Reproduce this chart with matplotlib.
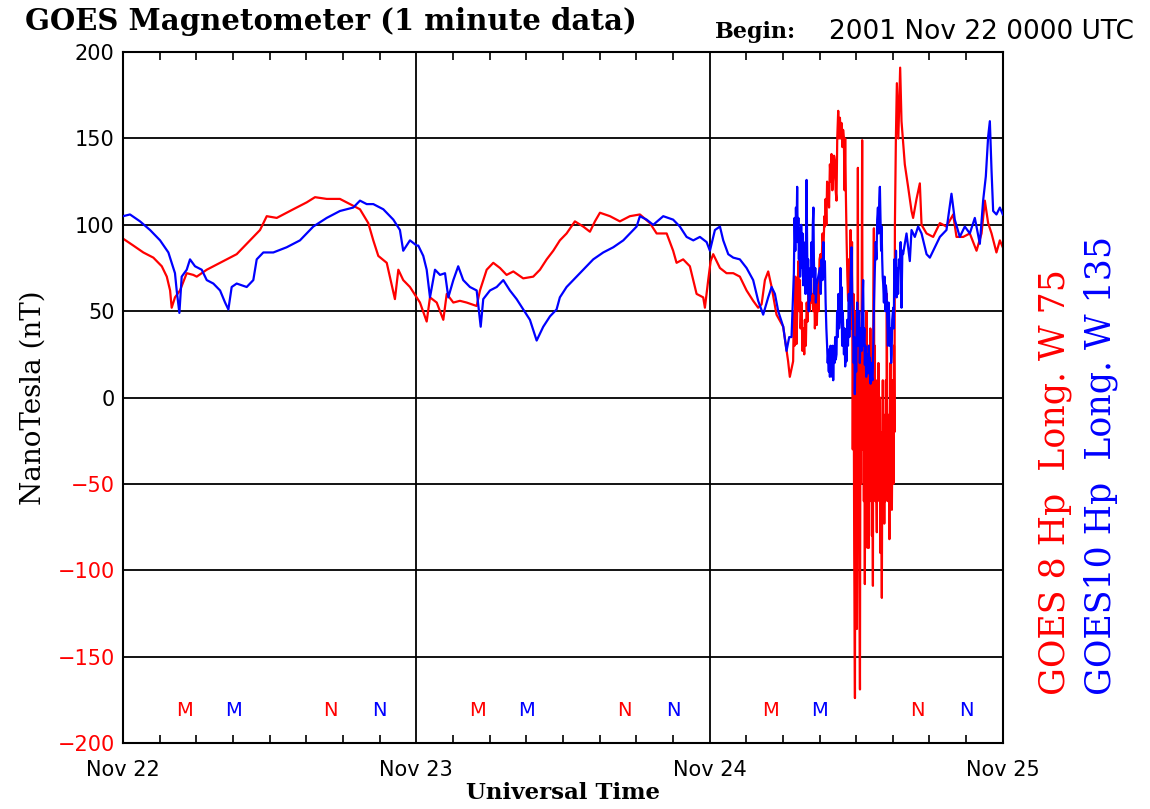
import matplotlib
matplotlib.use("Agg")
import matplotlib.pyplot as plt
import numpy as np

# hours since 2001 Nov 22 00 UT, values in nT

# GOES 8 (red)
g8_day1_hours = [0.0, 0.84, 1.66, 2.48, 3.17, 3.58, 3.85, 3.98, 4.25, 4.66, 5.21, 5.75, 6.03, 6.85,
                 7.94, 9.30, 10.12, 11.21, 11.76, 12.58, 13.93, 15.03, 15.71, 16.67, 17.75, 18.57,
                 19.39, 20.07, 20.48, 20.89, 21.58, 22.25, 22.53, 22.93, 23.48]
g8_day1_nt = [92, 88, 84, 81, 76, 70, 62, 52, 58, 62, 72, 71, 70, 74,
              78, 83, 89, 97, 105, 104, 109, 113, 116, 115, 115, 112,
              109, 101, 91, 82, 78, 57, 74, 68, 64]

g8_day2_hours = [24.03, 24.30, 24.85, 25.12, 25.67, 26.21, 26.49, 27.03, 27.57, 28.12, 28.94, 29.21,
                 29.76, 30.30, 30.85, 31.39, 31.94, 32.75, 33.57, 34.12, 34.67, 35.21, 35.75, 36.30,
                 36.98, 37.66, 38.21, 38.62, 39.03, 39.85, 40.66, 41.48, 42.30, 43.12, 43.67, 44.49,
                 45.02, 45.30, 45.84, 46.39, 46.94, 47.48, 47.62, 47.89]
g8_day2_nt = [58, 55, 44, 58, 55, 45, 60, 55, 56, 55, 53, 62,
              74, 78, 75, 71, 73, 69, 70, 74, 80, 85, 91, 95,
              102, 99, 96, 102, 107, 105, 102, 105, 106, 101, 95, 95,
              85, 78, 80, 76, 60, 58, 52, 68]

g8_day3_hours = [48.09, 48.30, 48.85, 49.39, 49.94, 50.48, 51.03, 51.57, 51.98, 52.26, 52.53, 52.80,
                 53.08, 53.48, 54.03, 54.43, 54.57,
                 54.84, 54.90, 54.96, 55.02, 55.08, 55.12, 55.20, 55.27, 55.34, 55.40, 55.45, 55.53,
                 55.60, 55.68, 55.75, 55.80, 55.88, 55.95, 56.02, 56.10, 56.18, 56.25, 56.32, 56.40,
                 56.48, 56.55, 56.62, 56.70, 56.78, 56.85, 56.92, 57.00, 57.08, 57.16, 57.25, 57.32,
                 57.40, 57.44, 57.50, 57.56, 57.62, 57.71, 57.78, 57.85, 57.92, 57.98, 58.05, 58.12,
                 58.19, 58.26, 58.32, 58.39, 58.45, 58.53, 58.60, 58.67, 58.74, 58.80, 58.87, 58.93,
                 58.99, 59.05, 59.10, 59.16, 59.22, 59.28, 59.34, 59.40, 59.46,
                 59.54, 59.60, 59.66, 59.72, 59.78, 59.84, 59.90, 59.94, 59.98, 60.02, 60.06, 60.10,
                 60.14, 60.18, 60.22, 60.26, 60.31, 60.35, 60.40, 60.45, 60.49, 60.53, 60.58, 60.63,
                 60.67, 60.71, 60.75, 60.80, 60.84, 60.88, 60.92, 60.96, 61.00, 61.04, 61.08, 61.12,
                 61.16, 61.20, 61.25, 61.29, 61.33, 61.37, 61.41, 61.45, 61.49, 61.53, 61.57, 61.61,
                 61.65, 61.69, 61.73, 61.78, 61.82, 61.86, 61.90, 61.94, 61.98, 62.02, 62.06, 62.10,
                 62.14, 62.18, 62.22, 62.26, 62.30, 62.35, 62.39, 62.43, 62.47, 62.51, 62.55, 62.60,
                 62.64, 62.68, 62.72, 62.76, 62.80, 62.84, 62.88, 62.92, 62.96, 63.00, 63.05, 63.09,
                 63.13,
                 63.17, 63.25, 63.33, 63.45, 63.60, 63.71, 63.84, 63.98, 64.25, 64.53, 64.66, 64.94,
                 65.21, 65.35, 65.76, 66.30, 66.85, 67.39, 67.94, 68.21, 68.76, 69.30, 69.85, 70.26,
                 70.53, 70.80, 71.08, 71.48, 71.76, 72.0]
g8_day3_nt = [79, 83, 75, 72, 72, 70, 62, 56, 52, 54, 68, 73,
              64, 48, 41, 21, 12,
              21, 50, 30, 70, 45, 31, 60, 79, 50, 68, 40, 55,
              27, 40, 25, 45, 30, 55, 44, 65, 50, 70, 55, 60,
              50, 70, 40, 55, 42, 65, 50, 80, 83, 75, 95, 85,
              105, 99, 115, 100, 125, 122, 110, 135, 125, 141, 120, 128,
              140, 137, 120, 114, 150, 166, 150, 162, 150, 159, 145, 155,
              151, 120, 150, 116, 90, 70, 56, 80, 60,
              97, 40, 90, -30, 60, -90, -174, 20, -60, 50, -134, 0,
              133, -40, 30, -100, -169, 20, -50, 60, 149, -30, 40, -60,
              30, -108, 10, -70, 50, -20, -87, 30, -80, -87, 0, -60,
              40, -30, 20, -80, -40, -109, 60, 98, -20, 30, -60, 10,
              -50, -78, 0, -40, 20, -30, -60, 0, -90, -20, -60, -116,
              -30, 10, -50, -20, -73, -10, -60, 10, -40, 60, -30, -60,
              -10, -50, -82, -20, 20, -40, 0, -65, -30, 10, -50, 30,
              -20,
              100, 150, 182, 150, 191, 160, 148, 135, 122, 108, 104, 115,
              124, 100, 95, 93, 101, 99, 106, 93, 93, 95, 85, 95,
              114, 101, 95, 84, 91, 87]

# GOES 10 (blue)
g10_day1_hours = [0.0, 0.57, 1.39, 2.21, 3.03, 3.71, 4.25, 4.39, 4.61, 4.80, 5.21, 5.48, 5.89, 6.44,
                  6.85, 7.39, 7.94, 8.35, 8.62, 8.89, 9.30, 10.12, 10.66, 10.94, 11.48, 12.30, 13.39,
                  14.48, 15.57, 16.67, 17.75, 18.84, 19.39, 19.94, 20.48, 21.30, 22.12, 22.66, 22.93,
                  23.48]
g10_day1_nt = [105, 106, 102, 97, 91, 84, 72, 62, 49, 70, 74, 80, 76, 74,
               68, 66, 62, 55, 51, 64, 66, 64, 68, 80, 84, 84, 87,
               91, 99, 104, 108, 110, 114, 112, 112, 109, 103, 97, 85,
               91]

g10_day2_hours = [24.03, 24.16, 24.57, 24.85, 25.12, 25.53, 25.94, 26.35, 26.62, 27.03, 27.43, 27.84,
                  28.39, 28.94, 29.27, 29.48, 30.03, 30.58, 31.12, 31.66, 32.21, 32.75, 33.30, 33.85,
                  34.39, 34.94, 35.48, 35.75, 36.30, 37.12, 37.66, 38.48, 39.30, 40.12, 40.94, 41.48,
                  42.03, 42.30, 42.85, 43.39, 44.21, 45.02, 45.57, 46.12, 46.67, 47.21, 47.76]
g10_day2_nt = [88, 88, 82, 74, 58, 74, 71, 72, 58, 68, 76, 68,
               64, 62, 41, 57, 62, 64, 68, 62, 57, 51, 45, 33,
               41, 47, 51, 58, 64, 70, 74, 80, 84, 87, 91, 95,
               99, 105, 103, 100, 105, 103, 99, 93, 91, 93, 90]

g10_day3_hours = [48.03, 48.44, 48.85, 49.12, 49.53, 49.94, 50.48, 51.03, 51.57, 51.98, 52.39, 52.80,
                  53.08, 53.35, 53.62, 54.03, 54.30, 54.52, 54.71,
                  54.90, 54.96, 55.02, 55.07, 55.12, 55.17, 55.22, 55.27, 55.31, 55.36, 55.41, 55.45,
                  55.50, 55.55, 55.61, 55.66, 55.70, 55.75, 55.80, 55.85, 55.90, 55.94, 55.99, 56.03,
                  56.07, 56.12, 56.17, 56.21, 56.26, 56.30, 56.35, 56.40, 56.45, 56.50, 56.54, 56.60,
                  56.65, 56.70, 56.76,
                  57.03, 57.10, 57.17, 57.25, 57.32, 57.38, 57.44, 57.50, 57.56, 57.62, 57.67, 57.71,
                  57.76, 57.80, 57.85, 57.90, 57.94, 57.98, 58.03, 58.08, 58.12, 58.17, 58.23, 58.28,
                  58.33, 58.39, 58.44, 58.50, 58.55, 58.60, 58.66, 58.71, 58.76, 58.80, 58.85, 58.90,
                  58.94, 59.00, 59.05, 59.10, 59.16, 59.21, 59.27, 59.33, 59.40, 59.44, 59.48, 59.55,
                  59.62, 59.68, 59.75, 59.80, 59.85, 59.89, 59.95, 60.00, 60.03, 60.08, 60.14, 60.20,
                  60.25, 60.30, 60.36, 60.44, 60.50, 60.57, 60.62, 60.67, 60.71, 60.76, 60.82, 60.88,
                  60.93, 60.98, 61.03, 61.08, 61.12, 61.18, 61.23, 61.28, 61.34, 61.40, 61.46, 61.53,
                  61.60, 61.66, 61.72, 61.78, 61.84, 61.89, 61.94, 61.99, 62.04, 62.08, 62.13, 62.17,
                  62.21, 62.27, 62.32, 62.38, 62.43, 62.49, 62.55, 62.60, 62.65, 62.70, 62.76, 62.82,
                  62.86, 62.90, 62.95, 63.03, 63.08, 63.12, 63.17, 63.22, 63.26, 63.31, 63.37, 63.43,
                  63.50, 63.57, 63.64, 63.71, 63.78, 63.84,
                  64.12, 64.39, 64.53, 64.80, 65.07, 65.35, 65.76, 66.03, 66.30, 66.85, 67.39, 67.80,
                  68.07, 68.48, 68.89, 69.30, 69.71, 70.12, 70.39, 70.61, 70.80, 70.94, 71.08, 71.21,
                  71.48, 71.76, 72.0]
g10_day3_nt = [85, 97, 99, 91, 83, 81, 80, 75, 68, 56, 48, 58,
               64, 60, 50, 41, 27, 35, 35,
               72, 104, 85, 110, 95, 122, 90, 104, 80, 98, 70, 79,
               100, 75, 95, 65, 90, 70, 85, 60, 100, 126, 85, 60,
               80, 50, 70, 56, 75, 60, 90, 70, 100, 110, 80, 60,
               75, 55, 65,
               75, 60, 80, 68, 90, 70, 79, 55, 40, 30, 20, 25,
               15, 28, 12, 30, 18, 25, 12, 30, 10, 28, 20, 35,
               22, 25, 50, 35, 60, 40, 45, 75, 50, 64, 30, 50,
               41, 25, 40, 18, 30, 21, 45, 30, 60, 35, 50, 70,
               87, 55, 45, 20, 35, 2, 30, 15, 35, 55, 30, 45,
               50, 20, 40, 27, 50, 68, 30, 40, 19, 30, 12, 25,
               15, 14, 30, 18, 23, 8, 20, 12, 10, 30, 55, 75,
               90, 80, 103, 110, 95, 115, 122, 105, 85, 99, 80, 70,
               66, 55, 70, 50, 65, 60, 45, 30, 55, 48, 30, 40,
               20, 25, 45, 52, 40, 80, 72, 60, 85, 58, 75, 60,
               80, 75, 90, 52, 85, 83,
               95, 79, 97, 93, 99, 95, 83, 81, 85, 93, 97, 118,
               103, 93, 99, 95, 104, 89, 114, 128, 151, 160, 131, 108,
               106, 110, 106]

day_ticks = [0, 24, 48, 72]
day_labels = ["Nov 22", "Nov 23", "Nov 24", "Nov 25"]
y_ticks = [200, 150, 100, 50, 0, -50, -100, -150, -200]

# local midnight (M) / noon (N) markers, UT hour of day
g8_marks = [(5, "M"), (17, "N")]
g10_marks = [(9, "M"), (21, "N")]

g8_hours = g8_day1_hours + g8_day2_hours + g8_day3_hours
g8_nt = g8_day1_nt + g8_day2_nt + g8_day3_nt
g10_hours = g10_day1_hours + g10_day2_hours + g10_day3_hours
g10_nt = g10_day1_nt + g10_day2_nt + g10_day3_nt

fig = plt.figure(figsize=(11.5, 8.09), dpi=100)
ax = fig.add_axes([0.107, 0.0816, 0.765, 0.854])

for y in y_ticks[1:-1]:
    ax.axhline(y, color="black", lw=1.3, zorder=1)
for d in day_ticks[1:-1]:
    ax.axvline(d, color="black", lw=1.3, zorder=1)

ax.plot(g8_hours, g8_nt, color="#ff0000", lw=1.6, zorder=2)
ax.plot(g10_hours, g10_nt, color="#0000ff", lw=1.6, zorder=3)

for day in range(3):
    for h, s in g8_marks:
        ax.text(day * 24 + h, -181, s, color="#ff0000", ha="center", va="center", fontsize=14)
    for h, s in g10_marks:
        ax.text(day * 24 + h, -181, s, color="#0000ff", ha="center", va="center", fontsize=14)

ax.set_xlim(0, 72)
ax.set_ylim(-200, 200)
ax.set_xticks(day_ticks)
ax.set_xticklabels(day_labels, fontsize=15)
ax.set_xticks(np.arange(0, 73, 3), minor=True)
ax.tick_params(axis="x", which="major", length=0, pad=12)
ax.tick_params(axis="x", which="minor", direction="in", length=6, width=1.2, top=True, bottom=True)
ax.set_yticks(y_ticks)
ax.set_yticklabels([str(v) if v >= 0 else "\u2212" + str(-v) for v in y_ticks], fontsize=15)
ax.tick_params(axis="y", length=0, pad=6)
for lbl, v in zip(ax.get_yticklabels(), y_ticks):
    lbl.set_color("black" if v >= 0 else "#ff0000")
for sp in ax.spines.values():
    sp.set_linewidth(1.5)

ax.set_ylabel("NanoTesla (nT)", fontsize=20, family="DejaVu Serif", labelpad=8)
ax.set_xlabel("Universal Time", fontsize=16.5, family="DejaVu Serif", fontweight="bold", labelpad=2)

fig.text(0.022, 0.973, "GOES Magnetometer (1 minute data)", fontsize=21, family="DejaVu Serif",
         fontweight="bold", ha="left", va="center")
fig.text(0.622, 0.961, "Begin:", fontsize=16, family="DejaVu Serif", fontweight="bold",
         ha="left", va="center")
fig.text(0.721, 0.961, "2001 Nov 22 0000 UTC", fontsize=19, ha="left", va="center")

fig.text(0.917, 0.141, "GOES 8 Hp  Long. W 75", color="#ff0000", fontsize=25, family="DejaVu Serif",
         rotation=90, ha="center", va="bottom")
fig.text(0.957, 0.141, "GOES10 Hp  Long. W 135", color="#0000ff", fontsize=25, family="DejaVu Serif",
         rotation=90, ha="center", va="bottom")

fig.savefig("out.png", dpi=100)
